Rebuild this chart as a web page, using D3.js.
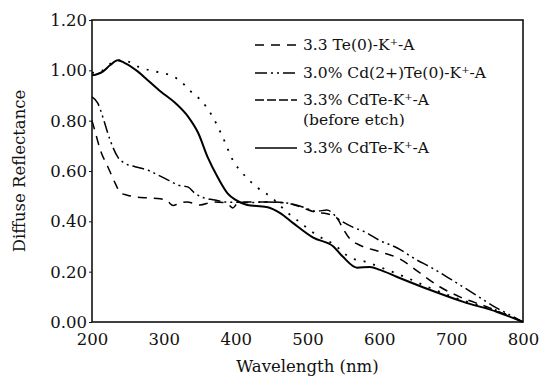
<!DOCTYPE html>
<html>
<head>
<meta charset="utf-8">
<script src="https://cdn.jsdelivr.net/npm/d3@7"></script>
<style>
  body { margin: 0; background: #fff; }
  text { font-family: "DejaVu Serif", serif; fill: #111; }
</style>
</head>
<body>
<div id="chart"></div>
<script>
// wavelength (nm) / diffuse reflectance
const teK = [[200,0.80],[204,0.76],[212,0.68],[222,0.617],[232,0.553],[240,0.512],[248,0.505],[260,0.497],[278,0.493],[295,0.49],[305,0.48],[313,0.463],[320,0.47],[332,0.477],[350,0.465],[369,0.477],[387,0.473],[396,0.453],[402,0.47],[416,0.477],[443,0.477],[471,0.473],[490,0.457],[513,0.435],[527,0.43],[541,0.413],[549,0.373],[559,0.33],[573,0.305],[600,0.28],[629,0.25],[654,0.2],[684,0.14],[712,0.1],[750,0.06],[800,0.0]];
const cdTeK = [[200,0.895],[208,0.87],[215,0.815],[222,0.75],[229,0.695],[236,0.655],[246,0.63],[260,0.617],[278,0.603],[292,0.584],[306,0.564],[320,0.544],[334,0.536],[343,0.512],[352,0.497],[371,0.485],[385,0.477],[420,0.475],[443,0.477],[471,0.473],[490,0.46],[513,0.44],[527,0.445],[545,0.405],[563,0.377],[580,0.358],[600,0.325],[625,0.294],[650,0.25],[673,0.215],[701,0.167],[733,0.11],[763,0.056],[779,0.032],[800,0.0]];
const beforeEtch = [[200,0.99],[215,1.0],[225,1.025],[236,1.04],[250,1.035],[264,1.015],[296,0.99],[310,0.98],[324,0.955],[338,0.915],[352,0.88],[368,0.815],[382,0.735],[396,0.643],[410,0.59],[429,0.537],[452,0.49],[470,0.44],[490,0.395],[513,0.345],[536,0.31],[560,0.255],[580,0.24],[601,0.218],[629,0.187],[671,0.135],[717,0.085],[764,0.045],[800,0.0]];
const afterEtch = [[200,0.98],[215,0.995],[225,1.02],[236,1.04],[245,1.03],[264,0.995],[278,0.96],[296,0.915],[316,0.87],[334,0.815],[348,0.75],[361,0.655],[375,0.575],[389,0.51],[400,0.485],[416,0.465],[443,0.457],[462,0.433],[480,0.393],[508,0.335],[536,0.30],[549,0.26],[569,0.216],[587,0.219],[601,0.207],[624,0.18],[671,0.127],[717,0.08],[764,0.04],[800,0.0]];

const xTicks = [200, 300, 400, 500, 600, 700, 800];
const yTicks = [0, 0.2, 0.4, 0.6, 0.8, 1.0, 1.2];

const series = [
  { name: "3.3 Te(0)-K", tail: "-A", data: teK, dash: "9,7", width: 1.5 },
  { name: "3.0% Cd(2+)Te(0)-K", tail: "-A", data: cdTeK, dash: "12,4,2,4,2,4", width: 1.5 },
  { name: "3.3% CdTe-K", tail: "-A", extra: "(before etch)", data: beforeEtch, dash: "2,8", width: 1.8 },
  { name: "3.3% CdTe-K", tail: "-A", data: afterEtch, dash: null, width: 2 }
];

const W = 540, H = 381;
const margin = {top: 20, right: 17, bottom: 59, left: 92};

const svg = d3.select("#chart").append("svg")
  .attr("width", W)
  .attr("height", H);

const x = d3.scaleLinear().domain([200, 800]).range([margin.left, W - margin.right]);
const y = d3.scaleLinear().domain([0, 1.2]).range([H - margin.bottom, margin.top]);

// frame
svg.append("rect")
  .attr("x", x(200)).attr("y", y(1.2))
  .attr("width", x(800) - x(200)).attr("height", y(0) - y(1.2))
  .attr("fill", "none").attr("stroke", "#111").attr("stroke-width", 1.6);

const xAxis = svg.append("g")
  .attr("transform", `translate(0,${y(0)})`)
  .call(d3.axisBottom(x).tickValues(xTicks).tickSize(0).tickPadding(11).tickFormat(d3.format("d")));
xAxis.select(".domain").remove();
xAxis.selectAll("text").style("font-size", "16.5px").style("font-family", "DejaVu Serif");

const yAxis = svg.append("g")
  .attr("transform", `translate(${x(200)},0)`)
  .call(d3.axisLeft(y).tickValues(yTicks).tickSize(3).tickPadding(2).tickFormat(d3.format(".2f")));
yAxis.select(".domain").remove();
yAxis.selectAll("line").attr("stroke", "#111");
yAxis.selectAll("text").style("font-size", "16.5px").style("font-family", "DejaVu Serif").attr("dy", "0.34em");

svg.append("text")
  .attr("x", x(500)).attr("y", 372)
  .attr("text-anchor", "middle")
  .style("font-size", "16.5px")
  .text("Wavelength (nm)");

svg.append("text")
  .attr("transform", `translate(25,${(y(0) + y(1.2)) / 2}) rotate(-90)`)
  .attr("text-anchor", "middle")
  .style("font-size", "16.5px")
  .text("Diffuse Reflectance");

const line = d3.line()
  .x(d => x(d[0]))
  .y(d => y(d[1]))
  .curve(d3.curveMonotoneX);

series.forEach(s => {
  svg.append("path")
    .datum(s.data)
    .attr("fill", "none")
    .attr("stroke", "#000")
    .attr("stroke-width", s.width)
    .attr("stroke-linejoin", "round")
    .attr("stroke-dasharray", s.dash)
    .attr("d", line);
});

// legend
const legY = [45, 73, 100, 148];
const legend = svg.append("g");
series.forEach((s, i) => {
  const g = legend.append("g").attr("transform", `translate(255,${legY[i]})`);
  g.append("line")
    .attr("x1", 0).attr("x2", 42)
    .attr("y1", 0).attr("y2", 0)
    .attr("stroke", "#000")
    .attr("stroke-width", s.width === 2 ? 1.6 : 1.4)
    .attr("stroke-dasharray", i === 2 ? "9,3" : s.dash);
  const t = g.append("text")
    .attr("x", 48).attr("dy", "0.35em")
    .style("font-size", "15.5px");
  t.append("tspan").text(s.name);
  t.append("tspan").attr("baseline-shift", "super").style("font-size", "10px").text("+");
  t.append("tspan").text(s.tail);
  if (s.extra) {
    g.append("text")
      .attr("x", 48).attr("y", 20).attr("dy", "0.35em")
      .style("font-size", "15.5px")
      .text(s.extra);
  }
});
</script>
</body>
</html>
